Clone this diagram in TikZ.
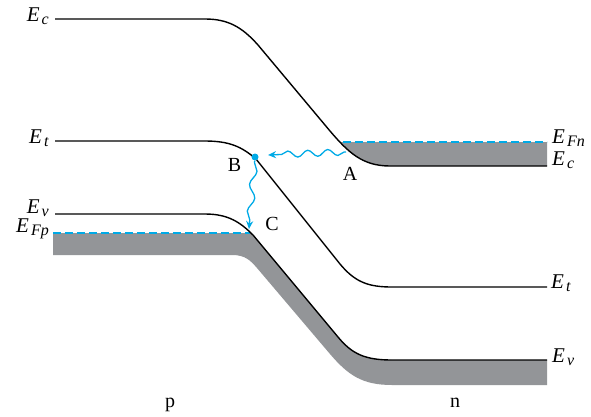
\documentclass[tikz,border=0pt]{standalone}
\usepackage{fontspec}
\setmainfont{Liberation Serif}
\usetikzlibrary{arrows.meta,positioning,decorations.pathmorphing}
\definecolor{bandgray}{RGB}{147,149,152}
\definecolor{fermicyan}{RGB}{0,170,230}
\newcommand{\lev}[1]{\textit{E}\kern2pt\raisebox{-0.35ex}{\fontsize{16}{16}\selectfont\textit{#1}}}
\tikzset{
level/.style={draw=black, line width=1.4pt},
fermi/.style={draw=fermicyan, line width=1.4pt, dash pattern=on 8pt off 4pt},
band/.style={fill=bandgray},
wave/.style={draw=fermicyan, line width=1.3pt, -{Stealth[length=8pt,width=7pt]}, decorate, decoration={snake, amplitude=3.2pt, segment length=20pt, pre length=2pt, post length=7pt}},
trapdot/.style={circle, fill=fermicyan, inner sep=0pt, minimum size=7pt},
lbl/.style={inner sep=0pt, font=\fontsize{20}{24}\selectfont},
elbl/.style={inner sep=0pt, font=\fontsize{21}{25}\selectfont}
}

\begin{document}
\begin{tikzpicture}[x=1pt, y=-1pt]
\useasboundingbox (0,0) rectangle (591,416);
% shaded bands
\begin{scope}
\clip (300,142) rectangle (547,170);
\fill[band] (330,131) .. controls (348,152) and (362,166) .. (390,166) -- (547,166) -- (547,120) -- (330,120) -- cycle;
\end{scope}
\fill[band] (53,233) -- (251,233) -- (253,235) -- (338,337) .. controls (352,354) and (365,360) .. (392,360) -- (547,360) -- (547,385) -- (392,385) .. controls (362,385) and (348,375) .. (330,354) -- (257,268) .. controls (250,260) and (245,255) .. (232,255) -- (53,255) -- cycle;
% quasi-Fermi levels
\draw[fermi] (53,233) -- (250,233);
\draw[fermi] (343,142) -- (547,142);
% band edges and trap level
\draw[level] (55,19) -- (205,19) .. controls (228,19) and (242,27) .. (258,45) -- (330,131) .. controls (348,152) and (362,166) .. (390,166) -- (547,166);
\draw[level] (55,141) -- (205,141) .. controls (230,141) and (242,147) .. (256,159) -- (340,264) .. controls (355,282) and (368,287) .. (392,287) -- (547,287);
\draw[level] (55,214) -- (205,214) .. controls (228,214) and (240,222) .. (253,235) -- (338,337) .. controls (352,354) and (365,360) .. (392,360) -- (547,360);
% labels
\node[elbl, anchor=base east] (ecp) at (49,21) {\lev{c}};
\node[elbl, anchor=base east] (etp) at (49,143) {\lev{t}};
\node[elbl, anchor=base east] (evp) at (49,213) {\lev{v}};
\node[elbl, anchor=base east] (efp) at (49,232) {\lev{Fp}};
\node[elbl, anchor=base west] (efn) at (552,143) {\lev{Fn}};
\node[elbl, anchor=base west] (ecn) at (552,165) {\lev{c}};
\node[elbl, anchor=base west] (etn) at (551,288) {\lev{t}};
\node[elbl, anchor=base west] (evn) at (552,362) {\lev{v}};
\node[lbl, anchor=base] (pside) at (170,407) {p};
\node[lbl, anchor=base] (nside) at (455,407) {n};
% capture and emission
\coordinate (ptA) at (346,152);
\coordinate (tipA) at (268,155);
\coordinate (tipC) at (249,229);
\node[trapdot] (dotB) at (255,157) {};
\node[lbl] (labA) at (350,174) {A};
\node[lbl, left=10pt of dotB, yshift=-8pt] (labB) {B};
\node[lbl] (labC) at (272,224) {C};
\draw[wave] (ptA) -- (tipA);
\draw[wave, decoration={segment length=27pt}] (dotB) -- (tipC);
\end{tikzpicture}
\end{document}
